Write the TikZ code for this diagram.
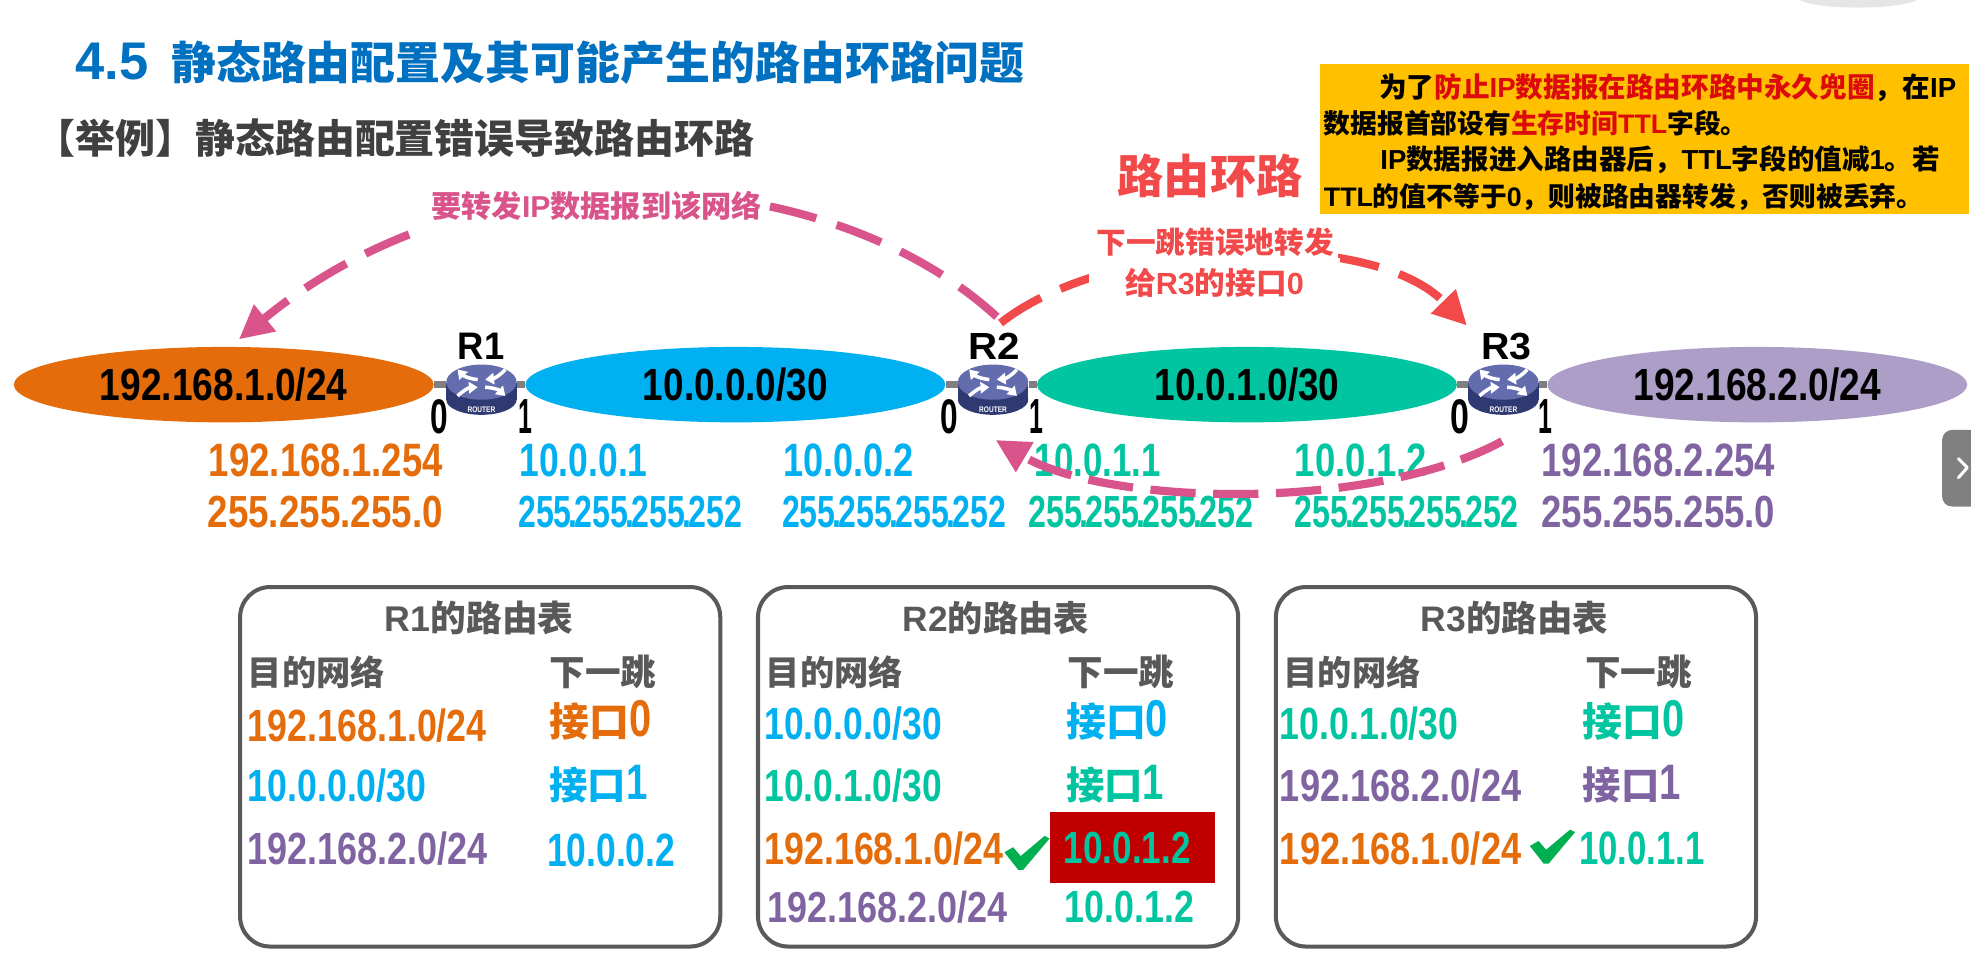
\documentclass[tikz,border=0pt]{standalone}
\usepackage{fontspec}
\usepackage{graphicx}
\usetikzlibrary{arrows.meta,shapes.geometric}
\setmainfont{Liberation Sans}
\newfontfamily\cjk{Noto Sans CJK SC}
\newcommand\C[1]{{\cjk #1}}
\newcommand\D[1]{\scalebox{1}[1.3]{#1}}
\newcommand\mk{255\kern-.09em.\kern-.09em255\kern-.09em.\kern-.09em255\kern-.09em.\kern-.09em252}
\definecolor{cblue}{HTML}{00B0F0}
\definecolor{cgreen}{HTML}{00C5A0}
\definecolor{cpurple}{HTML}{8064A2}
\definecolor{cpurplef}{HTML}{AC9EC6}
\definecolor{corange}{HTML}{E46C0A}
\definecolor{cpink}{HTML}{D9548A}
\definecolor{cred}{HTML}{F24A4A}
\definecolor{crd}{HTML}{DC0A0A}
\definecolor{ctitle}{HTML}{0070C0}
\definecolor{cgray}{HTML}{595959}
\definecolor{cdark}{HTML}{404040}
\definecolor{cbox}{HTML}{FFC000}
\definecolor{cwrong}{HTML}{C00000}
\definecolor{ccheck}{HTML}{00B050}
\definecolor{clink}{HTML}{7F7F7F}
\definecolor{crtop}{HTML}{636DAE}
\definecolor{crside}{HTML}{2F3A72}
\newcommand\fitt[3]{\resizebox{#1pt}{#2pt}{#3}}
% name, x, baseline, width, height, colour, text
\newcommand\ip[7]{\node[lbl,text=#6] (#1) at (#2,#3) {\fitt{#4}{#5}{#7}};}
% name, x, baseline, width, size, colour, text
\newcommand\zh[7]{\node[lbl,text=#6] (#1) at (#2,#3) {\resizebox{#4pt}{!}{\fontsize{#5pt}{#5pt}\selectfont #7}};}
\tikzset{
  lbl/.style={anchor=base west,inner sep=0pt,font=\bfseries},
  net/.style={ellipse,minimum width=334pt,minimum height=60pt,inner sep=0pt,font=\bfseries,text=black},
  routernode/.style={ellipse,minimum width=56pt,minimum height=44pt,inner sep=0pt},
  link/.style={draw=clink,line width=6pt},
  tablebox/.style={draw=cgray,line width=3.2pt,rounded corners=24pt,minimum width=382pt,minimum height=286pt,inner sep=0pt},
  flow/.style={line width=6.5pt,dash pattern=on 38pt off 17pt,-{Triangle[length=27pt,width=26pt]}},
  flowback/.style={line width=6.5pt,dash pattern=on 36pt off 14pt,-{Triangle[length=27pt,width=26pt]}},
  router/.pic={
    \fill[crside] (-28,0) rectangle (28,13);
    \fill[crside] (0,13) ellipse (28 and 12);
    \fill[crtop] (0,-1) ellipse (28 and 14);
    \begin{scope}[white,line width=2.8pt,-{Triangle[length=7pt,width=9pt]}]
      \draw (-3,-3) to[bend left=20] (-19,-11);
      \draw (19,-11) to[bend left=20] (3,-3);
      \draw (3,3) to[bend left=20] (19,10);
      \draw (-19,10) to[bend left=20] (-3,3);
    \end{scope}
    \node[inner sep=0pt,text=white,font=\bfseries] (tag) at (0,21) {\fitt{22}{4.5}{ROUTER}};
  },
  okmark/.pic={
    \fill[ccheck] (0,13) -- (7,9) -- (13,16) -- (32,0) -- (36,2) -- (15,27) -- (11,27) -- cycle;
  }
}
\begin{document}
\begin{tikzpicture}[x=1pt,y=-1pt]
\useasboundingbox (0,0) rectangle (1568,778);
\fill[white] (0,0) rectangle (1568,778);
% smudge at the top edge and the screenshot's side tab
\fill[black!10] (1432,0) .. controls (1445,8) and (1510,8) .. (1525,0) -- cycle;
\fill[black!50,rounded corners=8pt] (1545,342) rectangle (1580,403);
\draw[white,line width=2.4pt,line cap=round,line join=round] (1558,365) -- (1565,372) -- (1558,380);

% titles
\ip{tnum}{60}{63}{58}{29}{ctitle}{4.5}
\zh{ttxt}{136}{63}{679}{35.7}{ctitle}{\C{静态路由配置及其可能产生的路由环路问题}}
\zh{tsub}{28}{122}{572}{31.8}{cdark}{\C{【举例】静态路由配置错误导致路由环路}}

% networks
\node[net,fill=corange] (n1) at (178,306) {\fitt{197}{26}{192.168.1.0/24}};
\node[net,fill=cblue] (n2) at (585,306) {\fitt{147}{26}{10.0.0.0/30}};
\node[net,fill=cgreen] (n3) at (992,306) {\fitt{147}{26}{10.0.1.0/30}};
\node[net,fill=cpurplef] (n4) at (1398,306) {\fitt{197}{26}{192.168.2.0/24}};
\node[routernode] (r1) at (383,306) {};
\node[routernode] (r2) at (790,306) {};
\node[routernode] (r3) at (1196,306) {};
\draw[link] (n1) -- (r1);
\draw[link] (r1) -- (n2);
\draw[link] (n2) -- (r2);
\draw[link] (r2) -- (n3);
\draw[link] (n3) -- (r3);
\draw[link] (r3) -- (n4);
\pic (pr1) at (383,305) {router};
\pic (pr2) at (790,305) {router};
\pic (pr3) at (1196,305) {router};
\ip{lr1}{364}{286}{37}{21}{black}{R1}
\ip{lr2}{770}{286}{41}{21}{black}{R2}
\ip{lr3}{1178}{286}{40}{21}{black}{R3}
\ip{r1a}{342}{345}{14}{27}{black}{0}
\ip{r1b}{412}{345}{11}{27}{black}{1}
\ip{r2a}{748}{345}{14}{27}{black}{0}
\ip{r2b}{819}{345}{11}{27}{black}{1}
\ip{r3a}{1154}{345}{15}{27}{black}{0}
\ip{r3b}{1224}{345}{11}{27}{black}{1}

% addresses
\ip{a1}{166}{379}{186}{26}{corange}{192.168.1.254}
\ip{m1}{165}{420}{187}{25}{corange}{255.255.255.0}
\ip{a2}{413}{379}{102}{26}{cblue}{10.0.0.1}
\ip{m2}{412}{420}{178}{25}{cblue}{\mk}
\ip{a3}{623}{379}{104}{26}{cblue}{10.0.0.2}
\ip{m3}{622}{420}{178}{25}{cblue}{\mk}
\ip{a4}{823}{379}{100}{26}{cgreen}{10.0.1.1}
\ip{m4}{818}{420}{179}{25}{cgreen}{\mk}
\ip{a5}{1030}{379}{105}{26}{cgreen}{10.0.1.2}
\ip{m5}{1030}{420}{178}{25}{cgreen}{\mk}
\ip{a6}{1226}{379}{186}{26}{cpurple}{192.168.2.254}
\ip{m6}{1226}{420}{186}{25}{cpurple}{255.255.255.0}

% flows
\coordinate (f1s) at (793,252);
\coordinate (f1e) at (190,270);
\coordinate (f2s) at (796,257);
\coordinate (f2e) at (1167,259);
\coordinate (f3s) at (1195,351);
\coordinate (f3e) at (792,350);
\draw[flow,draw=cpink] (f1s) .. controls (660,130) and (385,110) .. (f1e);
\draw[flow,draw=cred] (f2s) .. controls (880,190) and (1090,180) .. (f2e);
\draw[flowback,draw=cpink] (f3s) .. controls (1090,408) and (880,402) .. (f3e);
\node[lbl,text=cpink,fill=white,inner xsep=3pt,inner ysep=8pt] (lf1) at (340,173) {\resizebox{263pt}{!}{\fontsize{23pt}{23pt}\selectfont \C{要转发}IP\C{数据报到该网络}}};
\zh{lf0}{889}{154}{147}{36.5}{cred}{\C{路由环路}}
\node[lbl,text=cred,fill=white,inner xsep=29pt,inner ysep=8pt] (lf3) at (866,234) {\resizebox{142pt}{!}{\fontsize{23.6pt}{23.6pt}\selectfont \C{给}R3\C{的接口}0}};
\node[lbl,text=cred,fill=white,inner xsep=3pt,inner ysep=6pt] (lf2) at (869,202) {\resizebox{189pt}{!}{\fontsize{23.6pt}{23.6pt}\selectfont \C{下一跳错误地转发}}};

% note
\node[fill=cbox,anchor=north west,minimum width=516pt,minimum height=119pt,inner sep=0pt] (note) at (1050,51) {};
\zh{nl1}{1097}{77.5}{459}{22}{black}{\C{为了}\textcolor{crd}{\C{防止}IP\C{数据报在路由环路中永久兜圈}}\C{，在}IP}
\zh{nl2}{1053}{106}{337}{22}{black}{\C{数据报首部设有}\textcolor{crd}{\C{生存时间}TTL}\C{字段。}}
\zh{nl3}{1098}{135}{445}{22}{black}{IP\C{数据报进入路由器后，}TTL\C{字段的值减}1\C{。若}}
\zh{nl4}{1053}{164}{477}{22}{black}{TTL\C{的值不等于}0\C{，则被路由器转发，否则被丢弃。}}

% routing tables
\node[tablebox,anchor=north west] (t1) at (189.4,465.4) {};
\node[tablebox,anchor=north west] (t2) at (601.4,465.4) {};
\node[tablebox,anchor=north west] (t3) at (1013.4,465.4) {};
\zh{t1h}{306}{502}{150}{24}{cgray}{R1\C{的路由表}}
\zh{t2h}{718}{502}{148}{24}{cgray}{R2\C{的路由表}}
\zh{t3h}{1130}{502}{149}{24}{cgray}{R3\C{的路由表}}
\zh{t1a}{197}{545}{109}{27}{cgray}{\C{目的网络}}
\zh{t1b}{437}{545}{85}{28}{cgray}{\C{下一跳}}
\zh{t2a}{609}{545}{109}{27}{cgray}{\C{目的网络}}
\zh{t2b}{849}{545}{85}{28}{cgray}{\C{下一跳}}
\zh{t3a}{1021}{545}{109}{27}{cgray}{\C{目的网络}}
\zh{t3b}{1261}{545}{85}{28}{cgray}{\C{下一跳}}

% R1 rows
\ip{x11}{197}{590}{190}{26}{corange}{192.168.1.0/24}
\ip{x12}{197}{638}{142}{26}{cblue}{10.0.0.0/30}
\ip{x13}{197}{688}{191}{26}{cpurple}{192.168.2.0/24}
\zh{y11}{437}{586}{81}{30}{corange}{\C{接口}\D{0}}
\zh{y12}{437}{636}{78}{30}{cblue}{\C{接口}\D{1}}
\ip{y13}{435}{689}{102}{26}{cblue}{10.0.0.2}

% R2 rows
\ip{x21}{608}{588}{141}{26}{cblue}{10.0.0.0/30}
\ip{x22}{608}{638}{141}{26}{cgreen}{10.0.1.0/30}
\ip{x23}{608}{688}{190}{26}{corange}{192.168.1.0/24}
\ip{x24}{610}{734}{191}{25}{cpurple}{192.168.2.0/24}
\zh{y21}{848}{586}{81}{30}{cblue}{\C{接口}\D{0}}
\zh{y22}{848}{636}{78}{30}{cgreen}{\C{接口}\D{1}}
\node[fill=cwrong,anchor=north west,minimum width=131pt,minimum height=56pt,inner sep=0pt] (wrong) at (835,646) {};
\ip{y23}{846}{687}{101}{25}{cgreen}{10.0.1.2}
\ip{y24}{847}{734}{103}{25}{cgreen}{10.0.1.2}
\pic (ck2) at (799,665) {okmark};

% R3 rows
\ip{x31}{1018}{588}{142}{26}{cgreen}{10.0.1.0/30}
\ip{x32}{1018}{638}{192}{26}{cpurple}{192.168.2.0/24}
\ip{x33}{1018}{688}{192}{26}{corange}{192.168.1.0/24}
\zh{y31}{1259}{586}{81}{30}{cgreen}{\C{接口}\D{0}}
\zh{y32}{1259}{636}{78}{30}{cpurple}{\C{接口}\D{1}}
\ip{y33}{1256}{688}{100}{26}{cgreen}{10.0.1.1}
\pic (ck3) at (1217,660) {okmark};
\end{tikzpicture}
\end{document}
